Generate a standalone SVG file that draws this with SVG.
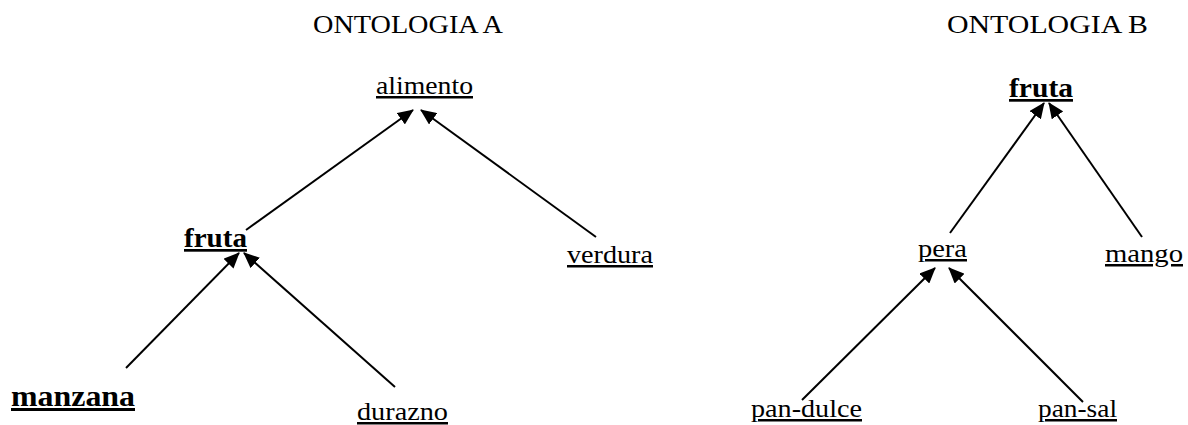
<svg xmlns="http://www.w3.org/2000/svg" width="1188" height="425" viewBox="0 0 1188 425">
<defs>
<style>
text{font-family:"Liberation Serif","DejaVu Serif",serif;fill:#000}
.t{font-size:25px}
.n{font-size:25px;text-decoration:underline}
.b{font-size:27px;font-weight:bold;text-decoration:underline}
.bb{font-size:30px;font-weight:bold;text-decoration:underline}
.e{stroke:#000;stroke-width:2;fill:none;marker-end:url(#ah)}
</style>
<marker id="ah" markerUnits="userSpaceOnUse" markerWidth="16" markerHeight="14" viewBox="0 0 16 14" refX="15" refY="7" orient="auto">
<path d="M0,0 L16,7 L0,14 Z" fill="#000"/>
</marker>
</defs>
<g id="titles">
<text class="t" x="313" y="33" textLength="190" lengthAdjust="spacingAndGlyphs">ONTOLOGIA A</text>
<text class="t" x="947" y="33" textLength="201" lengthAdjust="spacingAndGlyphs">ONTOLOGIA B</text>
</g>
<g id="connectors">
<line class="e" x1="246" y1="230" x2="413" y2="110"/>
<line class="e" x1="596" y1="237" x2="421" y2="110"/>
<line class="e" x1="126" y1="368" x2="239" y2="253"/>
<line class="e" x1="395" y1="387" x2="244" y2="253"/>
<line class="e" x1="950" y1="233" x2="1044" y2="103"/>
<line class="e" x1="1142" y1="237" x2="1049" y2="103"/>
<line class="e" x1="802" y1="400" x2="935" y2="268"/>
<line class="e" x1="1083" y1="402" x2="949" y2="268"/>
</g>
<g id="node-alimento"><text class="n" x="376" y="94" textLength="97" lengthAdjust="spacingAndGlyphs">alimento</text></g>
<g id="node-fruta-a"><text class="b" x="184" y="247" textLength="63" lengthAdjust="spacingAndGlyphs">fruta</text></g>
<g id="node-verdura"><text class="n" x="567" y="263" textLength="86" lengthAdjust="spacingAndGlyphs">verdura</text></g>
<g id="node-manzana"><text class="bb" x="11" y="406" textLength="124" lengthAdjust="spacingAndGlyphs">manzana</text></g>
<g id="node-durazno"><text class="n" x="357" y="420" textLength="91" lengthAdjust="spacingAndGlyphs">durazno</text></g>
<g id="node-fruta-b"><text class="b" x="1009" y="97" textLength="64" lengthAdjust="spacingAndGlyphs">fruta</text></g>
<g id="node-pera"><text class="n" x="918" y="257" textLength="49" lengthAdjust="spacingAndGlyphs">pera</text></g>
<g id="node-mango"><text class="n" x="1105" y="262" textLength="78" lengthAdjust="spacingAndGlyphs">mango</text></g>
<g id="node-pan-dulce"><text class="n" x="751" y="417" textLength="111" lengthAdjust="spacingAndGlyphs">pan-dulce</text></g>
<g id="node-pan-sal"><text class="n" x="1038" y="417" textLength="79" lengthAdjust="spacingAndGlyphs">pan-sal</text></g>
</svg>
